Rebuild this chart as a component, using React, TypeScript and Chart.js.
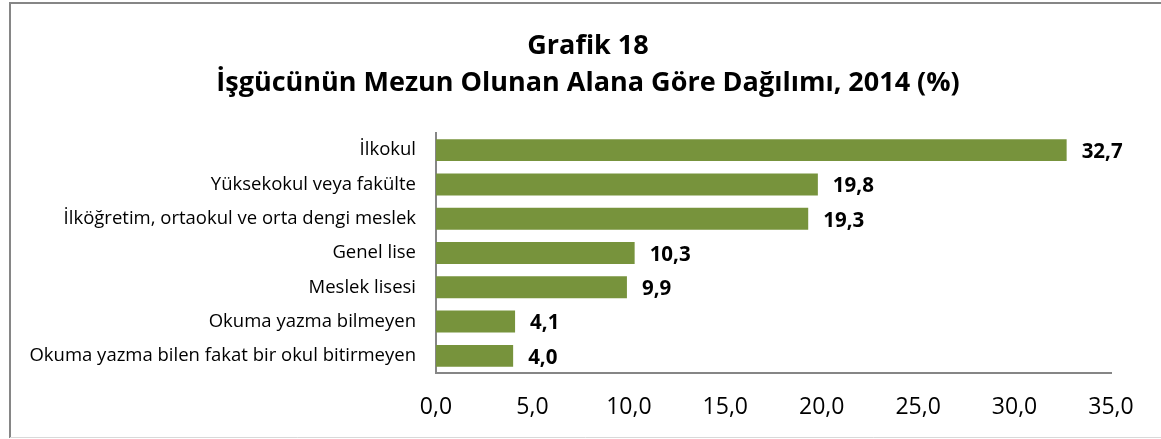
import React, { useEffect, useRef } from "react";
import { Chart, registerables } from "chart.js";

Chart.register(...registerables);

const categories = [
  "İlkokul",
  "Yüksekokul veya fakülte",
  "İlköğretim, ortaokul ve orta dengi meslek",
  "Genel lise",
  "Meslek lisesi",
  "Okuma yazma bilmeyen",
  "Okuma yazma bilen fakat bir okul bitirmeyen",
];
const values = [32.7, 19.8, 19.3, 10.3, 9.9, 4.1, 4.0];
const titleLines = ["Grafik 18", "İşgücünün Mezun Olunan Alana Göre Dağılımı, 2014 (%)"];

const FONT = "'Open Sans', sans-serif";
const fmt = (v: number) => v.toFixed(1).replace(".", ",");

const decorPlugin = {
  id: "decor",
  beforeDraw(chart: any) {
    const ctx = chart.ctx;
    ctx.save();
    ctx.fillStyle = "#ffffff";
    ctx.fillRect(0, 0, chart.width, chart.height);
    ctx.strokeStyle = "#868686";
    ctx.lineWidth = 2;
    ctx.beginPath();
    ctx.moveTo(10, 438);
    ctx.lineTo(10, 3);
    ctx.lineTo(chart.width, 3);
    ctx.stroke();
    ctx.strokeStyle = "#d9d9d9";
    ctx.lineWidth = 1;
    ctx.beginPath();
    ctx.moveTo(10, 437.5);
    ctx.lineTo(chart.width, 437.5);
    ctx.stroke();
    // title
    ctx.fillStyle = "#000";
    ctx.textAlign = "center";
    ctx.textBaseline = "middle";
    ctx.font = `bold 27px ${FONT}`;
    ctx.fillText(titleLines[0], 588, 46);
    ctx.fillText(titleLines[1], 588, 83);
    ctx.restore();
  },
  afterDatasetsDraw(chart: any) {
    const ctx = chart.ctx;
    const meta = chart.getDatasetMeta(0);
    ctx.save();
    ctx.fillStyle = "#000";
    ctx.font = `bold 20.5px ${FONT}`;
    ctx.textAlign = "left";
    ctx.textBaseline = "middle";
    meta.data.forEach((bar: any, i: number) => {
      ctx.fillText(fmt(values[i]), bar.x + 15, bar.y + 2);
    });
    ctx.restore();
  },
};

export default function App() {
  const ref = useRef<HTMLCanvasElement>(null);
  useEffect(() => {
    const chart = new Chart(ref.current!, {
      type: "bar",
      data: {
        labels: categories,
        datasets: [
          {
            data: values,
            backgroundColor: "#77933C",
            barPercentage: 0.64,
            categoryPercentage: 1,
          },
        ],
      },
      options: {
        indexAxis: "y",
        animation: false,
        responsive: false,
        layout: { padding: { top: 133, right: 50, bottom: 0, left: 0 } },
        plugins: {
          legend: { display: false },
          title: { display: false },
          tooltip: { enabled: false },
        },
        scales: {
          x: {
            min: 0,
            max: 35,
            ticks: {
              stepSize: 5,
              callback: (v: any) => fmt(Number(v)),
              color: "#000",
              font: { family: FONT, size: 23 },
              padding: 21,
              maxRotation: 0,
            },
            grid: { display: false, drawTicks: false },
            border: { display: true, color: "#868686", width: 2 },
            afterFit: (s: any) => {
              s.height = 66;
            },
          },
          y: {
            ticks: {
              color: "#000",
              font: { family: FONT, size: 18.5 },
              padding: 20,
            },
            grid: { display: false, drawTicks: false },
            border: { display: true, color: "#868686", width: 2 },
            afterFit: (s: any) => {
              s.width = 436;
            },
          },
        },
      },
      plugins: [decorPlugin],
    });
    return () => chart.destroy();
  }, []);
  return (
    <canvas
      ref={ref}
      width={1161}
      height={439}
      style={{ position: "fixed", left: 0, top: 0, width: 1161, height: 439 }}
    />
  );
}
